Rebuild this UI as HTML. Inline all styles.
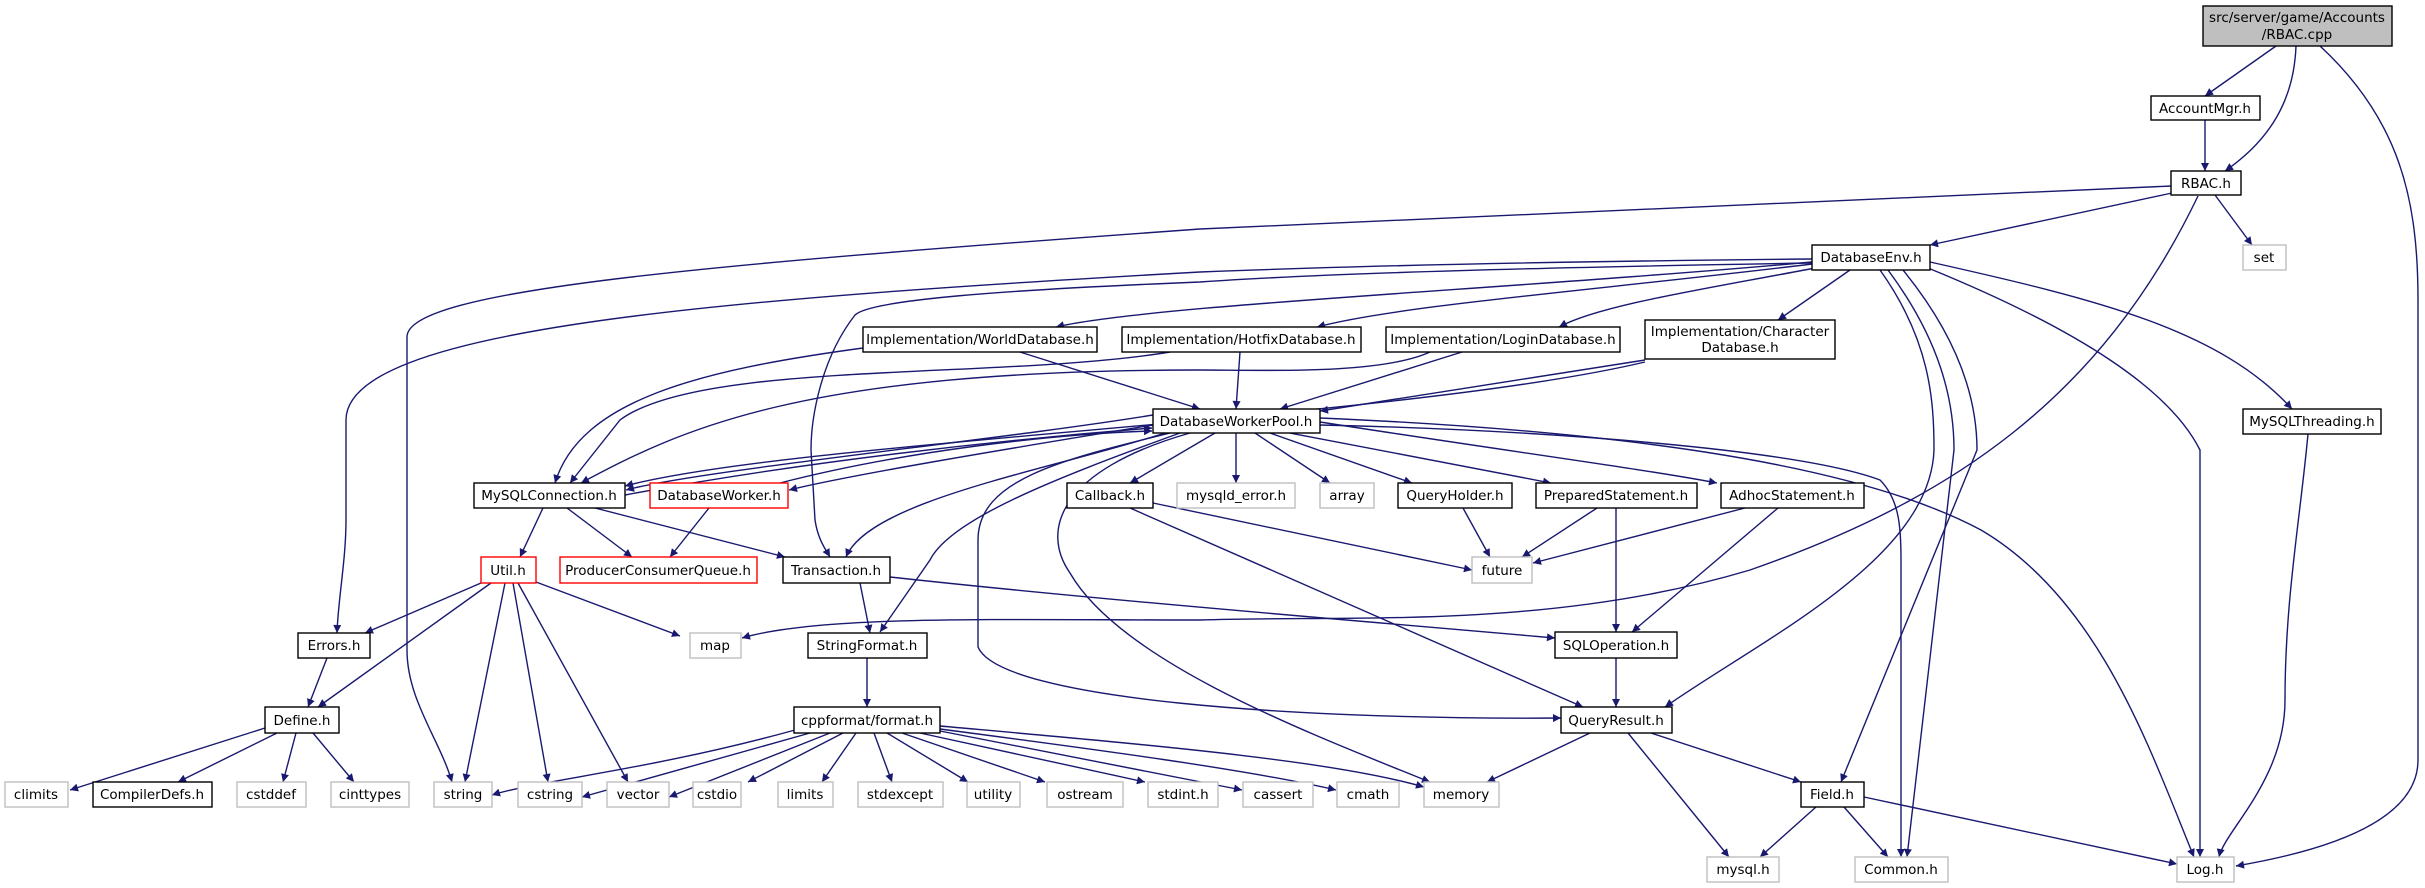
<!DOCTYPE html>
<html><head><meta charset="utf-8"><style>
html,body{margin:0;padding:0;background:#fff;width:2425px;height:888px;overflow:hidden}
text{font-family:"DejaVu Sans","Liberation Sans",sans-serif;font-size:13.5px;text-anchor:middle;fill:#000}
.e{fill:none;stroke:#191970;stroke-width:1.4;marker-end:url(#a)}
.b{fill:#fff;stroke:#000;stroke-width:1.4}
.g{fill:#fff;stroke:#bfbfbf;stroke-width:1.4}
.r{fill:#fff;stroke:#ff0000;stroke-width:1.4}
</style></head><body>
<svg width="2425" height="888" viewBox="0 0 2425 888" xmlns="http://www.w3.org/2000/svg">
<defs><marker id="a" viewBox="0 0 10 10" refX="10" refY="5" markerWidth="11" markerHeight="8" markerUnits="userSpaceOnUse" orient="auto"><path d="M0,0 L10,5 L0,10 z" fill="#191970"/></marker></defs>
<g>
<path class="e" d="M2276,46 L2205,96"/>
<path class="e" d="M2296,46 C2294,100 2270,140 2225,171"/>
<path class="e" d="M2320,46 C2400,120 2418,200 2418,300 L2418,760 C2418,820 2330,850 2236,866"/>
<path class="e" d="M2205,120 L2205,171"/>
<path class="e" d="M2171,186 L1200,229 C700,265 407,290 407,337 L407,650 C407,700 440,740 452,782"/>
<path class="e" d="M2172,193 L1930,245"/>
<path class="e" d="M2215,195 L2252,245"/>
<path class="e" d="M2198,196 C2100,400 1950,500 1750,570 C1550,630 1350,615 1200,620 C1000,620 820,615 742,638"/>
<path class="e" d="M1812,262 C1500,290 1150,305 1056,327"/>
<path class="e" d="M1812,264 C1600,290 1400,305 1317,327"/>
<path class="e" d="M1815,268 C1700,290 1600,305 1559,327"/>
<path class="e" d="M1850,270 L1778,320"/>
<path class="e" d="M1812,259 C1500,262 1300,268 1200,272 C700,300 346,330 346,420 L346,520 C346,560 338,600 337,633"/>
<path class="e" d="M1812,263 C1500,268 1300,275 1200,282 C1000,290 870,300 855,315 C820,360 811,420 811,450 L815,520 C818,540 826,550 830,557"/>
<path class="e" d="M1880,270 C1930,340 1934,400 1934,450 C1930,560 1760,640 1665,707"/>
<path class="e" d="M1888,270 C1940,340 1954,400 1954,450 L1907,857"/>
<path class="e" d="M1903,270 C1960,340 1977,400 1977,450 L1841,782"/>
<path class="e" d="M1928,268 C2080,330 2170,390 2200,450 L2200,857"/>
<path class="e" d="M1930,262 C2100,300 2220,330 2292,409"/>
<path class="e" d="M2308,434 C2300,520 2285,600 2285,700 C2285,780 2225,830 2219,857"/>
<path class="e" d="M863,348 C700,370 580,400 555,483"/>
<path class="e" d="M1020,352 L1200,409"/>
<path class="e" d="M1170,352 C1000,380 700,360 620,420 L570,483"/>
<path class="e" d="M1240,352 L1236,409"/>
<path class="e" d="M1430,352 C1380,375 1260,370 1200,370 C800,370 680,430 581,483"/>
<path class="e" d="M1462,352 L1280,409"/>
<path class="e" d="M1645,360 L1320,411"/>
<path class="e" d="M1645,362 C1400,420 800,440 625,486"/>
<path class="e" d="M1153,415 C1000,440 700,470 626,490"/>
<path class="e" d="M625,495 C800,462 1000,440 1152,428"/>
<path class="e" d="M1153,425 C1000,450 850,475 789,490"/>
<path class="e" d="M780,483 C900,452 1050,434 1152,431"/>
<path class="e" d="M1215,433 L1130,483"/>
<path class="e" d="M1236,433 L1236,483"/>
<path class="e" d="M1255,433 L1330,483"/>
<path class="e" d="M1270,433 L1412,483"/>
<path class="e" d="M1290,433 L1551,483"/>
<path class="e" d="M1320,422 C1500,450 1650,470 1717,483"/>
<path class="e" d="M1165,433 C1050,470 870,500 846,557"/>
<path class="e" d="M1180,433 C1050,480 950,520 930,560 L880,632"/>
<path class="e" d="M1190,433 C1060,470 1040,530 1070,573 C1120,660 1300,730 1430,782"/>
<path class="e" d="M1170,433 C1060,460 978,480 978,540 L978,647 C1000,700 1300,720 1561,718"/>
<path class="e" d="M1320,418 C1600,430 1850,460 1981,530 C2100,600 2150,750 2194,857"/>
<path class="e" d="M1320,425 C1550,430 1800,450 1880,480 C1900,500 1901,530 1901,560 L1901,857"/>
<path class="e" d="M1153,503 L1472,570"/>
<path class="e" d="M1130,508 L1583,707"/>
<path class="e" d="M1463,508 L1490,557"/>
<path class="e" d="M1597,508 L1522,557"/>
<path class="e" d="M1616,508 L1616,632"/>
<path class="e" d="M1745,508 L1533,563"/>
<path class="e" d="M1778,508 L1632,632"/>
<path class="e" d="M1616,658 L1616,707"/>
<path class="e" d="M890,577 C1100,600 1350,620 1555,638"/>
<path class="e" d="M860,583 L870,633"/>
<path class="e" d="M543,508 L520,557"/>
<path class="e" d="M567,508 L632,557"/>
<path class="e" d="M595,508 L785,557"/>
<path class="e" d="M709,508 L670,557"/>
<path class="e" d="M481,583 L365,633"/>
<path class="e" d="M491,583 L318,707"/>
<path class="e" d="M505,583 L465,782"/>
<path class="e" d="M513,583 L548,782"/>
<path class="e" d="M518,583 L628,782"/>
<path class="e" d="M536,582 L680,636"/>
<path class="e" d="M327,658 L308,707"/>
<path class="e" d="M265,728 L70,790"/>
<path class="e" d="M277,733 L178,782"/>
<path class="e" d="M296,733 L283,782"/>
<path class="e" d="M313,733 L354,782"/>
<path class="e" d="M867,658 L867,707"/>
<path class="e" d="M795,730 C650,770 540,780 492,795"/>
<path class="e" d="M810,733 L582,797"/>
<path class="e" d="M830,733 L669,797"/>
<path class="e" d="M843,733 L748,782"/>
<path class="e" d="M856,733 L822,782"/>
<path class="e" d="M874,733 L892,782"/>
<path class="e" d="M887,733 L968,782"/>
<path class="e" d="M902,733 L1045,782"/>
<path class="e" d="M920,733 L1145,782"/>
<path class="e" d="M940,731 L1242,790"/>
<path class="e" d="M940,729 C1100,750 1250,770 1336,790"/>
<path class="e" d="M940,726 C1150,745 1330,760 1424,787"/>
<path class="e" d="M1590,733 L1487,782"/>
<path class="e" d="M1628,733 L1729,857"/>
<path class="e" d="M1651,733 L1801,782"/>
<path class="e" d="M1816,807 L1760,857"/>
<path class="e" d="M1844,807 L1888,857"/>
<path class="e" d="M1864,797 L2177,864"/>
</g>
<g>
<rect x="2203" y="6" width="189" height="40" fill="#bfbfbf" stroke="#000" stroke-width="1.4"/>
<text x="2297" y="22">src/server/game/Accounts</text><text x="2297" y="39">/RBAC.cpp</text>
<rect class="b" x="2151" y="96" width="109" height="24"/><text x="2205" y="113">AccountMgr.h</text>
<rect class="b" x="2171" y="171" width="70" height="24"/><text x="2206" y="188">RBAC.h</text>
<rect class="b" x="1812" y="245" width="118" height="25"/><text x="1871" y="262">DatabaseEnv.h</text>
<rect class="g" x="2243" y="245" width="43" height="25"/><text x="2264" y="262">set</text>
<rect class="b" x="863" y="327" width="234" height="25"/><text x="980" y="344">Implementation/WorldDatabase.h</text>
<rect class="b" x="1122" y="327" width="239" height="25"/><text x="1241" y="344">Implementation/HotfixDatabase.h</text>
<rect class="b" x="1386" y="327" width="234" height="25"/><text x="1503" y="344">Implementation/LoginDatabase.h</text>
<rect class="b" x="1645" y="320" width="190" height="39"/><text x="1740" y="336">Implementation/Character</text><text x="1740" y="352">Database.h</text>
<rect class="b" x="1153" y="409" width="167" height="24"/><text x="1236" y="426">DatabaseWorkerPool.h</text>
<rect class="b" x="2243" y="409" width="138" height="25"/><text x="2312" y="426">MySQLThreading.h</text>
<rect class="b" x="474" y="483" width="151" height="25"/><text x="549" y="500">MySQLConnection.h</text>
<rect class="r" x="650" y="483" width="138" height="25"/><text x="719" y="500">DatabaseWorker.h</text>
<rect class="b" x="1067" y="483" width="86" height="25"/><text x="1110" y="500">Callback.h</text>
<rect class="g" x="1177" y="483" width="118" height="25"/><text x="1236" y="500">mysqld_error.h</text>
<rect class="g" x="1320" y="483" width="54" height="25"/><text x="1347" y="500">array</text>
<rect class="b" x="1398" y="483" width="114" height="25"/><text x="1455" y="500">QueryHolder.h</text>
<rect class="b" x="1536" y="483" width="161" height="25"/><text x="1616" y="500">PreparedStatement.h</text>
<rect class="b" x="1721" y="483" width="143" height="25"/><text x="1792" y="500">AdhocStatement.h</text>
<rect class="r" x="481" y="557" width="55" height="26"/><text x="508" y="575">Util.h</text>
<rect class="r" x="560" y="557" width="197" height="26"/><text x="658" y="575">ProducerConsumerQueue.h</text>
<rect class="b" x="783" y="557" width="107" height="26"/><text x="836" y="575">Transaction.h</text>
<rect class="g" x="1472" y="557" width="60" height="26"/><text x="1502" y="575">future</text>
<rect class="b" x="298" y="633" width="72" height="25"/><text x="334" y="650">Errors.h</text>
<rect class="g" x="690" y="633" width="51" height="25"/><text x="715" y="650">map</text>
<rect class="b" x="808" y="633" width="119" height="25"/><text x="867" y="650">StringFormat.h</text>
<rect class="b" x="1555" y="632" width="122" height="26"/><text x="1616" y="650">SQLOperation.h</text>
<rect class="b" x="265" y="707" width="74" height="26"/><text x="302" y="725">Define.h</text>
<rect class="b" x="794" y="707" width="146" height="26"/><text x="867" y="725">cppformat/format.h</text>
<rect class="b" x="1561" y="707" width="111" height="26"/><text x="1616" y="725">QueryResult.h</text>
<rect class="g" x="5" y="782" width="63" height="25"/><text x="36" y="799">climits</text>
<rect class="b" x="93" y="782" width="119" height="25"/><text x="152" y="799">CompilerDefs.h</text>
<rect class="g" x="237" y="782" width="69" height="25"/><text x="271" y="799">cstddef</text>
<rect class="g" x="331" y="782" width="78" height="25"/><text x="370" y="799">cinttypes</text>
<rect class="g" x="434" y="782" width="58" height="25"/><text x="463" y="799">string</text>
<rect class="g" x="518" y="782" width="64" height="25"/><text x="550" y="799">cstring</text>
<rect class="g" x="607" y="782" width="62" height="25"/><text x="638" y="799">vector</text>
<rect class="g" x="693" y="782" width="48" height="25"/><text x="717" y="799">cstdio</text>
<rect class="g" x="778" y="782" width="55" height="25"/><text x="805" y="799">limits</text>
<rect class="g" x="858" y="782" width="85" height="25"/><text x="900" y="799">stdexcept</text>
<rect class="g" x="967" y="782" width="53" height="25"/><text x="993" y="799">utility</text>
<rect class="g" x="1047" y="782" width="76" height="25"/><text x="1085" y="799">ostream</text>
<rect class="g" x="1148" y="782" width="70" height="25"/><text x="1183" y="799">stdint.h</text>
<rect class="g" x="1243" y="782" width="70" height="25"/><text x="1278" y="799">cassert</text>
<rect class="g" x="1337" y="782" width="62" height="25"/><text x="1368" y="799">cmath</text>
<rect class="g" x="1424" y="782" width="75" height="25"/><text x="1461" y="799">memory</text>
<rect class="b" x="1801" y="782" width="63" height="25"/><text x="1832" y="799">Field.h</text>
<rect class="g" x="1707" y="857" width="72" height="25"/><text x="1743" y="874">mysql.h</text>
<rect class="g" x="1855" y="857" width="93" height="25"/><text x="1901" y="874">Common.h</text>
<rect class="g" x="2177" y="857" width="57" height="25"/><text x="2205" y="874">Log.h</text>
</g>
</svg>
</body></html>
